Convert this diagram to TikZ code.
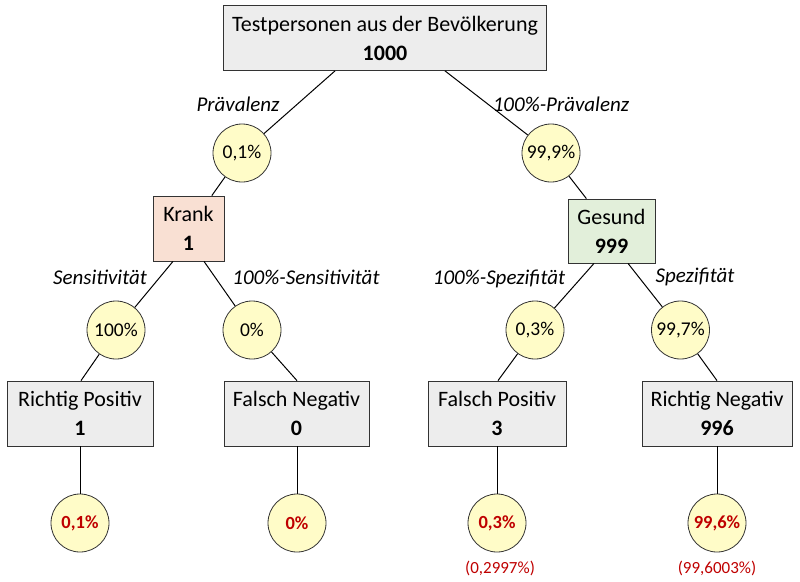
\documentclass[tikz,border=0pt]{standalone}
\usepackage{fontspec}
\setmainfont{Carlito}
\definecolor{kr}{HTML}{F9E0D3}
\definecolor{ge}{HTML}{E2EFDA}
\definecolor{ci}{HTML}{FFFCC8}
\definecolor{gb}{HTML}{EDEDED}
\begin{document}
\begin{tikzpicture}[x=1pt,y=-1pt,
 box/.style={draw=black!80,line width=0.8pt,fill=gb,align=center,font=\fontsize{22}{29}\selectfont,inner sep=0pt},
 circ/.style={circle,draw=black!80,line width=0.8pt,fill=ci,minimum size=58pt,inner sep=0pt,font=\fontsize{19.5}{22}\selectfont},
 res/.style={circ,font=\fontsize{18.5}{22}\selectfont\bfseries,text=red!75!black},
 lab/.style={font=\fontsize{21}{24}\selectfont\itshape},
 ln/.style={line width=1pt}]
\useasboundingbox (0,0) rectangle (800,581);
\node[box,minimum width=323pt,minimum height=65pt] (top) at (385,38) {Testpersonen aus der Bevölkerung\\\textbf{1000}};
\node[circ] (c1) at (242,153) {0,1\%};
\node[circ] (c2) at (551,153) {99,9\%};
\node[box,fill=kr,minimum width=71pt,minimum height=65pt] (k) at (188.5,228.5) {Krank\\\textbf{1}};
\node[box,fill=ge,minimum width=87pt,minimum height=64pt] (g) at (611.5,231) {Gesund\\\textbf{999}};
\node[circ] (c3) at (116,330) {100\%};
\node[circ] (c4) at (252,330) {0\%};
\node[circ] (c5) at (535,330) {0,3\%};
\node[circ] (c6) at (680.5,330) {99,7\%};
\node[box,minimum width=146pt,minimum height=65pt] (b1) at (80,413.5) {Richtig Positiv\\\textbf{1}};
\node[box,minimum width=145pt,minimum height=65pt] (b2) at (296.5,413.5) {Falsch Negativ\\\textbf{0}};
\node[box,minimum width=138pt,minimum height=65pt] (b3) at (497,413.5) {Falsch Positiv\\\textbf{3}};
\node[box,minimum width=150pt,minimum height=65pt] (b4) at (717,413.5) {Richtig Negativ\\\textbf{996}};
\node[res] (r1) at (80,523) {0,1\%};
\node[res] (r2) at (297,523) {0\%};
\node[res] (r3) at (497,523) {0,3\%};
\node[res] (r4) at (717,523) {99,6\%};
\node[text=red!75!black,font=\fontsize{17}{19}\selectfont] (t3) at (500,568) {(0,2997\%)};
\node[text=red!75!black,font=\fontsize{17}{19}\selectfont] (t4) at (717,568) {(99,6003\%)};
\draw[ln] (top.south -| 335,0) -- (c1) -- (k);
\draw[ln] (top.south -| 445,0) -- (c2) -- (g);
\draw[ln] (k.south -| 173,0) -- (c3) -- (b1.north -| 81,0);
\draw[ln] (k.south -| 204,0) -- (c4) -- (b2.north -| 297,0);
\draw[ln] (g.south -| 594,0) -- (c5) -- (b3.north -| 498,0);
\draw[ln] (g.south -| 628,0) -- (c6) -- (b4.north -| 717,0);
\draw[ln] (b1) -- (r1); \draw[ln] (b2.south -| r2) -- (r2);
\draw[ln] (b3) -- (r3); \draw[ln] (b4) -- (r4);
\node[lab] (l1) at (238,104) {Prävalenz};
\node[lab] (l2) at (561,104) {100\%-Prävalenz};
\node[lab] (l3) at (100,277) {Sensitivität};
\node[lab] (l4) at (306,277) {100\%-Sensitivität};
\node[lab] (l5) at (499,279) {100\%-Spezifität};
\node[lab] (l6) at (695,277) {Spezifität};
\end{tikzpicture}
\end{document}
